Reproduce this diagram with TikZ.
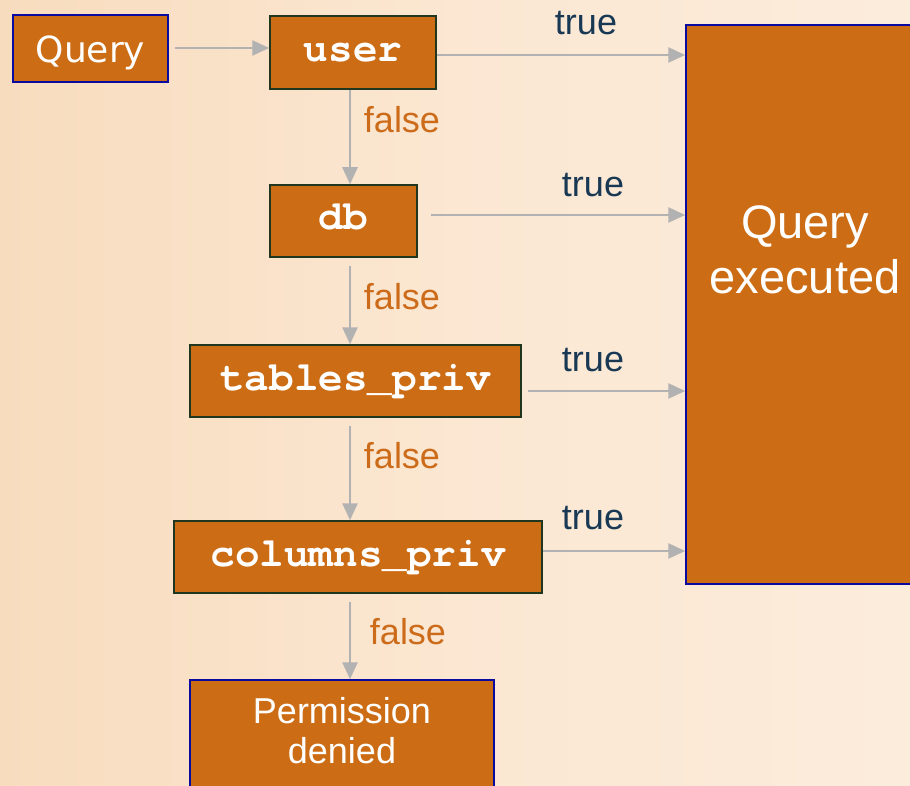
\documentclass[tikz,border=0pt]{standalone}
\usepackage{fontspec}
\setmainfont{Liberation Sans}
\newfontfamily\verdfont{DejaVu Sans}
\newfontfamily\codefont{TeX Gyre Cursor}
\usetikzlibrary{arrows.meta}
\definecolor{boxfill}{RGB}{204,108,20}
\definecolor{bluebord}{RGB}{10,10,160}
\definecolor{greenbord}{RGB}{30,55,30}
\definecolor{arrowgray}{RGB}{178,178,178}
\definecolor{falsecol}{RGB}{204,108,26}
\definecolor{truecol}{RGB}{24,56,84}
\definecolor{bgleft}{RGB}{248,220,190}
\definecolor{bgmid}{RGB}{251,231,210}
\definecolor{bgright}{RGB}{252,236,220}
\begin{document}
\begin{tikzpicture}[x=1pt,y=-1pt,
  box/.style={draw, fill=boxfill, line width=1.5pt, inner sep=0pt, text=white},
  bluebox/.style={box, draw=bluebord},
  greenbox/.style={box, draw=greenbord, text height=27pt, text depth=9pt, font=\codefont\bfseries\fontsize{41}{44}\selectfont},
  arr/.style={draw=arrowgray, line width=2.6pt, -{Triangle[length=17pt,width=15pt]}},
  falselbl/.style={inner sep=0pt, text=falsecol, font=\fontsize{36}{40}\selectfont},
  truelbl/.style={inner sep=0pt, text=truecol, font=\fontsize{36}{40}\selectfont}]
\useasboundingbox (0,0) rectangle (910,786);
\clip (0,0) rectangle (910,786);
\shade[left color=bgleft, right color=bgright, middle color=bgmid] (0,0) rectangle (910,786);

% nodes
\node[bluebox, minimum width=155pt, minimum height=67pt, text height=29pt, text depth=0pt, font=\verdfont\fontsize{36}{40}\selectfont] (query) at (90.5,48.5) {Query};
\node[greenbox, minimum width=166pt, minimum height=73pt] (user) at (353,52.5) {user};
\node[greenbox, minimum width=147pt, minimum height=72pt] (db) at (343.5,221) {db};
\node[greenbox, minimum width=331pt, minimum height=72pt] (tables) at (355.5,381) {tables\_priv};
\node[greenbox, minimum width=368pt, minimum height=72pt] (columns) at (358,557) {columns\_priv};
\node[bluebox, minimum width=238pt, minimum height=559pt] (exec) at (805,304.5) {};
\node[inner sep=0pt, text=white, align=center, font=\fontsize{47}{55}\selectfont] (exectxt) at (805,250) {Query\\executed};
\node[bluebox, minimum width=304pt, minimum height=140pt] (perm) at (342,750) {};
\node[inner sep=0pt, text=white, align=center, font=\fontsize{36}{40}\selectfont] (permtxt) at (342,731) {Permission\\denied};

\coordinate (spine) at (350,0);

% horizontal arrows
\draw[arr, shorten <=6pt] (query.east |- 0,48) -- (user.west |- 0,48);
\draw[arr] ([yshift=-2.5pt]user.east) -- ([yshift=-2.5pt]user.east -| exec.west);
\draw[arr, shorten <=13pt] ([yshift=6pt]db.east) -- ([yshift=6pt]db.east -| exec.west);
\draw[arr, shorten <=6pt] ([yshift=-10pt]tables.east) -- ([yshift=-10pt]tables.east -| exec.west);
\draw[arr] ([yshift=6pt]columns.east) -- ([yshift=6pt]columns.east -| exec.west);

% vertical arrows
\draw[arr] (user.south -| spine) -- (db.north -| spine);
\draw[arr, shorten <=8pt] (db.south -| spine) -- (tables.north -| spine);
\draw[arr, shorten <=8pt] (tables.south -| spine) -- (columns.north -| spine);
\draw[arr, shorten <=8pt] (columns.south -| spine) -- (perm.north -| spine);

% labels
\node[truelbl] (t1) at (586,23) {true};
\node[truelbl] (t2) at (593,185) {true};
\node[truelbl] (t3) at (593,360) {true};
\node[truelbl] (t4) at (593,518) {true};
\node[falselbl] (f1) at (402,120) {false};
\node[falselbl] (f2) at (402,297) {false};
\node[falselbl] (f3) at (402,456) {false};
\node[falselbl] (f4) at (408,632) {false};
\end{tikzpicture}
\end{document}
